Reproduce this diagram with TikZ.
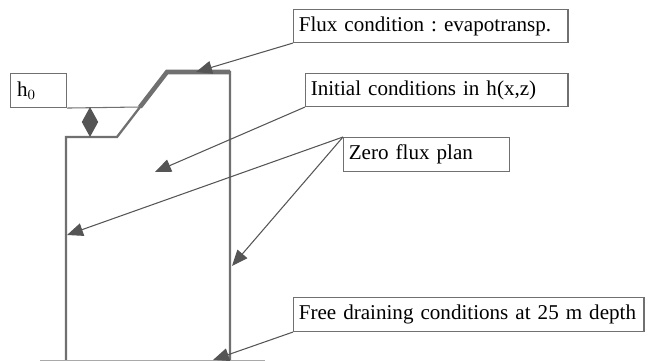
\documentclass[tikz,border=0pt]{standalone}
\usepackage{fontspec}
\setmainfont{Liberation Serif}
\usepackage{tikz}
\usetikzlibrary{arrows.meta}
\definecolor{wallgray}{HTML}{707070}
\definecolor{tipgray}{HTML}{555555}
\tikzstyle{lbl} = [rectangle, draw=wallgray, semithick, fill=white, anchor=north west, minimum height=0.66cm, inner sep=3pt, align=left, font=\fontsize{12}{14}\selectfont\frenchspacing]
\tikzstyle{wall} = [draw=wallgray, line width=1.3pt]
\tikzstyle{ptr} = [draw=tipgray, semithick, -{Triangle[length=0.32cm,width=0.26cm]}]

\begin{document}
\begin{tikzpicture}[x=0.02cm,y=-0.02cm]
  \useasboundingbox (0,0) rectangle (650,361);
  % profile
  \coordinate (BL) at (66,361);
  \coordinate (S1) at (66,137);
  \coordinate (S2) at (117,137);
  \coordinate (SM) at (140,107);
  \coordinate (S3) at (167,72);
  \coordinate (S4) at (230,72);
  \coordinate (BR) at (230,361);
  \draw[wall] (BL) -- (S1) -- (S2) -- (S3) -- (S4) -- (BR);
  \draw[wall, line width=2.6pt] (SM) -- (S3) -- (S4);
  \draw[draw=wallgray!60, thin] (40,360) -- (265,360);

  % labels
  \node[lbl, text width=0.86cm, minimum width=1.12cm, minimum height=0.68cm] (H0) at (10,73) {h$_0$};
  \draw[draw=wallgray, semithick] (H0.south east) -- (SM);
  \coordinate (D1) at (90,107);
  \coordinate (D2) at (90,137);
  \draw[draw=tipgray, line width=0.8pt, {Triangle[length=0.3cm,width=0.32cm]}-{Triangle[length=0.3cm,width=0.32cm]}] (D1) -- (D2);

  \node[lbl, text width=5.28cm] (FLUX) at (293,9) {Flux condition : evapotransp.};
  \node[lbl, text width=5.04cm] (INIT) at (305,73) {Initial conditions in h(x,z)};
  \node[lbl, text width=3.1cm, minimum height=0.68cm] (ZERO) at (343,137) {Zero flux plan};
  \node[lbl, text width=6.8cm, minimum height=0.68cm] (FREE) at (293,297) {Free draining conditions at 25 m depth};

  % pointers
  \coordinate (PF) at (196,72);
  \coordinate (PI) at (155,172);
  \coordinate (PL) at (67,235);
  \coordinate (PR) at (232,266);
  \coordinate (PB) at (213,360);
  \draw[ptr] (FLUX.south west) -- (PF);
  \draw[ptr] (INIT.south west) -- (PI);
  \draw[ptr] (ZERO.north west) -- (PL);
  \draw[ptr] (ZERO.north west) -- (PR);
  \draw[ptr] (FREE.south west) -- (PB);
\end{tikzpicture}
\end{document}
